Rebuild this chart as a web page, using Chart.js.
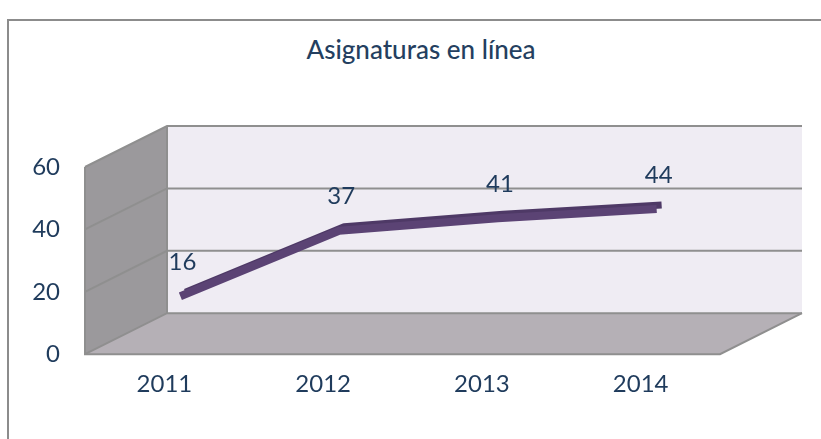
<!DOCTYPE html>
<html>
<head>
<meta charset="utf-8">
<script src="https://cdn.jsdelivr.net/npm/chart.js@4"></script>
<style>
  body { margin: 0; background: #fff; overflow: hidden; }
  #frame { position: absolute; left: 7px; top: 19px; width: 900px; height: 500px; border: 2px solid #8c8c8c; }
  #title { position: absolute; left: 8px; top: 33px; width: 826px; text-align: center;
           font: 500 26px Lato; color: #243f60; }
  #chart { position: absolute; left: 0; top: 0; }
</style>
</head>
<body>
<div id="frame"></div>
<div id="title">Asignaturas en línea</div>
<canvas id="chart" width="821" height="439"></canvas>
<script>
const years = ['2011', '2012', '2013', '2014'];
const subjects = [16, 37, 41, 44];
const yTicks = [0, 20, 40, 60];

const textColor = '#1f3b5c';
const depth = { x: 82, y: -41 };     // 3D depth of the box
const lineShift = { x: 16, y: -8 };  // ribbon sits a little into the box

function poly(ctx, pts, fill) {
    ctx.beginPath();
    ctx.moveTo(pts[0][0], pts[0][1]);
    for (let i = 1; i < pts.length; i++) ctx.lineTo(pts[i][0], pts[i][1]);
    ctx.closePath();
    ctx.fillStyle = fill;
    ctx.fill();
}

const box3d = {
    id: 'box3d',
    beforeDraw(chart) {
        const { ctx, chartArea: a, scales } = chart;
        const L = a.left, R = a.right, T = a.top, B = a.bottom;
        const dx = depth.x, dy = depth.y;
        ctx.save();
        // back wall
        poly(ctx, [[L + dx, T + dy], [R + dx, T + dy], [R + dx, B + dy], [L + dx, B + dy]], '#efecf3');
        // left wall
        poly(ctx, [[L, T], [L + dx, T + dy], [L + dx, B + dy], [L, B]], '#9b999c');
        // floor
        poly(ctx, [[L, B], [L + dx, B + dy], [R + dx, B + dy], [R, B]], '#b5b0b6');

        ctx.strokeStyle = '#8f8f8f';
        ctx.lineWidth = 2;
        yTicks.forEach(v => {
            const y = scales.y.getPixelForValue(v);
            ctx.beginPath();
            ctx.moveTo(L, y);
            ctx.lineTo(L + dx, y + dy);
            ctx.lineTo(R + dx, y + dy);
            ctx.stroke();
        });
        // outline edges
        ctx.beginPath();
        ctx.moveTo(L, T); ctx.lineTo(L, B); ctx.lineTo(R, B); ctx.lineTo(R + dx, B + dy);
        ctx.moveTo(L + dx, T + dy); ctx.lineTo(L + dx, B + dy);
        ctx.stroke();
        ctx.restore();
    },
    beforeDatasetsDraw(chart) {
        const ctx = chart.ctx;
        ctx.save();
        ctx.translate(lineShift.x, lineShift.y);
        // darker top face of the ribbon
        const pts = chart.getDatasetMeta(0).data;
        ctx.beginPath();
        pts.forEach((p, i) => {
            if (i === 0) ctx.moveTo(p.x + 5, p.y - 4);
            else ctx.lineTo(p.x + 5, p.y - 4);
        });
        ctx.strokeStyle = '#4e3966';
        ctx.lineWidth = 7;
        ctx.lineJoin = 'round';
        ctx.stroke();
    },
    afterDatasetsDraw(chart) {
        const ctx = chart.ctx;
        const pts = chart.getDatasetMeta(0).data;
        ctx.font = '24px Lato';
        ctx.fillStyle = textColor;
        ctx.textAlign = 'center';
        ctx.textBaseline = 'middle';
        pts.forEach((p, i) => {
            ctx.fillText(String(subjects[i]), p.x + 2, p.y - 34);
        });
        ctx.restore();
    }
};

new Chart(document.getElementById('chart'), {
    type: 'line',
    data: {
        labels: years,
        datasets: [{
            label: 'Asignaturas en línea',
            data: subjects,
            borderColor: '#5b4374',
            borderWidth: 8,
            borderJoinStyle: 'round',
            pointRadius: 0,
            tension: 0,
            clip: false
        }]
    },
    options: {
        responsive: false,
        animation: false,
        layout: { padding: { left: 0, right: 101, top: 167, bottom: 32 } },
        plugins: {
            legend: { display: false },
            tooltip: { enabled: false },
            title: { display: false }
        },
        scales: {
            x: {
                offset: true,
                grid: { display: false },
                border: { display: false },
                ticks: { color: textColor, font: { family: 'Lato', size: 24 }, padding: 8 }
            },
            y: {
                min: 0,
                max: 60,
                afterFit(scale) { scale.width = 85; },
                grid: { display: false, drawTicks: false },
                border: { display: false },
                ticks: { stepSize: 20, color: textColor, font: { family: 'Lato', size: 24 }, padding: 25 }
            }
        }
    },
    plugins: [box3d]
});
</script>
</body>
</html>
